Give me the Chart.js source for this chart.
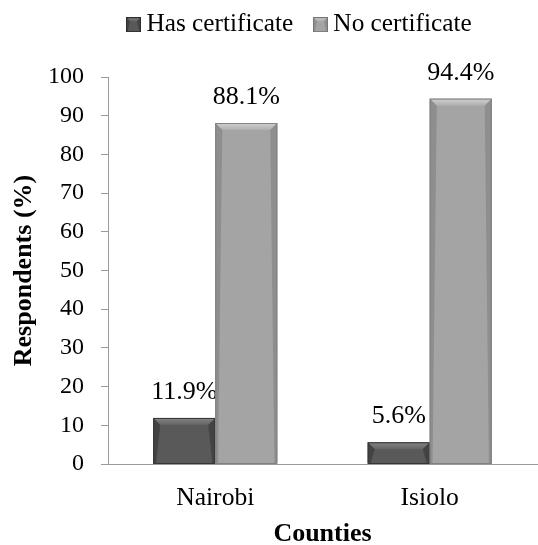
<!DOCTYPE html>
<html>
<head>
<meta charset="utf-8">
<script src="https://cdn.jsdelivr.net/npm/chart.js@4.4.1/dist/chart.umd.min.js"></script>
<style>
  html, body { margin: 0; padding: 0; background: #ffffff; }
  #wrap { width: 538px; height: 545px; }
</style>
</head>
<body>
<div id="wrap"><canvas id="c" width="538" height="545"></canvas></div>
<script>
// Certificate ownership among respondents, by county (%)
const counties = ['Nairobi', 'Isiolo'];
const hasCertificate = [11.9, 5.6];
const noCertificate = [88.1, 94.4];
const seriesNames = ['Has certificate', 'No certificate'];
const yTicks = [0, 10, 20, 30, 40, 50, 60, 70, 80, 90, 100];

const SERIF = '"Liberation Serif", "Times New Roman", serif';
const DARK = '#595959';
const LIGHT = '#a4a4a4';
const AXIS = '#9a9a9a';

function shade(hex, amt) {
  const n = parseInt(hex.slice(1), 16);
  const r = Math.max(0, Math.min(255, (n >> 16) + amt));
  const g = Math.max(0, Math.min(255, ((n >> 8) & 255) + amt));
  const b = Math.max(0, Math.min(255, (n & 255) + amt));
  return `rgb(${r},${g},${b})`;
}

// Paint a bevelled rectangle (flat face, lighter top chamfer, darker sides)
function bevelRect(ctx, x0, top, w, h, base, bevMax) {
  const x1 = x0 + w, bottom = top + h;
  const bev = Math.min(bevMax, h / 2, w / 2);
  ctx.fillStyle = base;
  ctx.fillRect(x0, top, w, h);
  const g = ctx.createLinearGradient(0, top, 0, top + bev);
  g.addColorStop(0, shade(base, 45));
  g.addColorStop(1, shade(base, 10));
  ctx.fillStyle = g;
  ctx.beginPath();
  ctx.moveTo(x0, top); ctx.lineTo(x1, top);
  ctx.lineTo(x1 - bev, top + bev); ctx.lineTo(x0 + bev, top + bev);
  ctx.closePath(); ctx.fill();
  ctx.fillStyle = shade(base, -22);
  ctx.beginPath();
  ctx.moveTo(x0, top); ctx.lineTo(x0 + bev, top + bev);
  ctx.lineTo(x0 + bev * 0.4, bottom); ctx.lineTo(x0, bottom);
  ctx.closePath(); ctx.fill();
  ctx.beginPath();
  ctx.moveTo(x1, top); ctx.lineTo(x1 - bev, top + bev);
  ctx.lineTo(x1 - bev * 0.4, bottom); ctx.lineTo(x1, bottom);
  ctx.closePath(); ctx.fill();
  ctx.strokeStyle = shade(base, -35);
  ctx.lineWidth = 1;
  ctx.strokeRect(x0 + 0.5, top + 0.5, w - 1, h - 0.5);
}

// Small bevelled swatch used as the legend marker
function swatch(color) {
  const c = document.createElement('canvas');
  c.width = 15; c.height = 15;
  const cx = c.getContext('2d');
  bevelRect(cx, 0, 0, 15, 15, color, 4);
  cx.strokeStyle = shade(color, -45);
  cx.strokeRect(0.5, 0.5, 14, 14);
  return c;
}

// Bevelled bar faces and percentage labels above each bar
const bevelAndLabels = {
  id: 'bevelAndLabels',
  afterDatasetsDraw(chart) {
    const ctx = chart.ctx;
    chart.data.datasets.forEach((ds, di) => {
      const meta = chart.getDatasetMeta(di);
      meta.data.forEach((bar, i) => {
        const x0 = bar.x - bar.width / 2;
        const top = bar.y, h = bar.base - bar.y;
        ctx.save();
        bevelRect(ctx, x0, top, bar.width, h, ds.backgroundColor, 7);
        ctx.fillStyle = '#000000';
        ctx.font = '26px ' + SERIF;
        ctx.textAlign = 'center';
        ctx.textBaseline = 'alphabetic';
        ctx.fillText(ds.data[i].toFixed(1) + '%', bar.x, top - 19);
        ctx.restore();
      });
    });
  }
};

// Fixed legend band height and placement
const legendBand = {
  id: 'legendBand',
  beforeInit(chart) {
    const fit = chart.legend.fit;
    chart.legend.fit = function () {
      fit.call(this);
      this.height = 77;
    };
  },
  afterLayout(chart) {
    const lg = chart.legend;
    lg.left += 34; lg.right += 34;
    lg.top -= 15; lg.bottom -= 15;
  }
};

new Chart(document.getElementById('c'), {
  type: 'bar',
  data: {
    labels: counties,
    datasets: [
      { label: seriesNames[0], data: hasCertificate, backgroundColor: DARK, borderWidth: 0 },
      { label: seriesNames[1], data: noCertificate, backgroundColor: LIGHT, borderWidth: 0 }
    ]
  },
  options: {
    responsive: false,
    animation: false,
    layout: { padding: { left: 0, right: 1, top: 0, bottom: 0 } },
    datasets: { bar: { categoryPercentage: 0.578, barPercentage: 1 } },
    plugins: {
      tooltip: { enabled: false },
      legend: {
        position: 'top',
        labels: {
          font: { family: SERIF, size: 25.3 },
          color: '#000000',
          usePointStyle: true,
          boxWidth: 0.5,
          boxHeight: 15,
          padding: 27,
          generateLabels(chart) {
            return chart.data.datasets.map((d, i) => ({
              text: d.label,
              fillStyle: d.backgroundColor,
              strokeStyle: d.backgroundColor,
              lineWidth: 0,
              pointStyle: swatch(d.backgroundColor),
              datasetIndex: i
            }));
          }
        }
      }
    },
    scales: {
      x: {
        offset: true,
        grid: { display: false, drawTicks: false },
        border: { display: true, color: AXIS, width: 1 },
        ticks: { font: { family: SERIF, size: 25.6 }, color: '#000000', padding: 19 },
        title: {
          display: true, text: 'Counties',
          font: { family: SERIF, size: 26, weight: 'bold' }, color: '#000000',
          padding: { top: 0, bottom: -5 }
        },
        afterFit(scale) { scale.height = 81; }
      },
      y: {
        min: 0, max: 100,
        afterBuildTicks(scale) { scale.ticks = yTicks.map(v => ({ value: v })); },
        grid: { drawOnChartArea: false, drawTicks: true, tickLength: 7, color: AXIS },
        border: { display: true, color: AXIS, width: 1 },
        ticks: { font: { family: SERIF, size: 24 }, color: '#000000', padding: 17 },
        title: {
          display: true, text: 'Respondents (%)',
          font: { family: SERIF, size: 26, weight: 'bold' }, color: '#000000',
          padding: { top: 9, bottom: 0 }
        },
        afterFit(scale) { scale.width = 108; }
      }
    }
  },
  plugins: [legendBand, bevelAndLabels]
});
</script>
</body>
</html>
